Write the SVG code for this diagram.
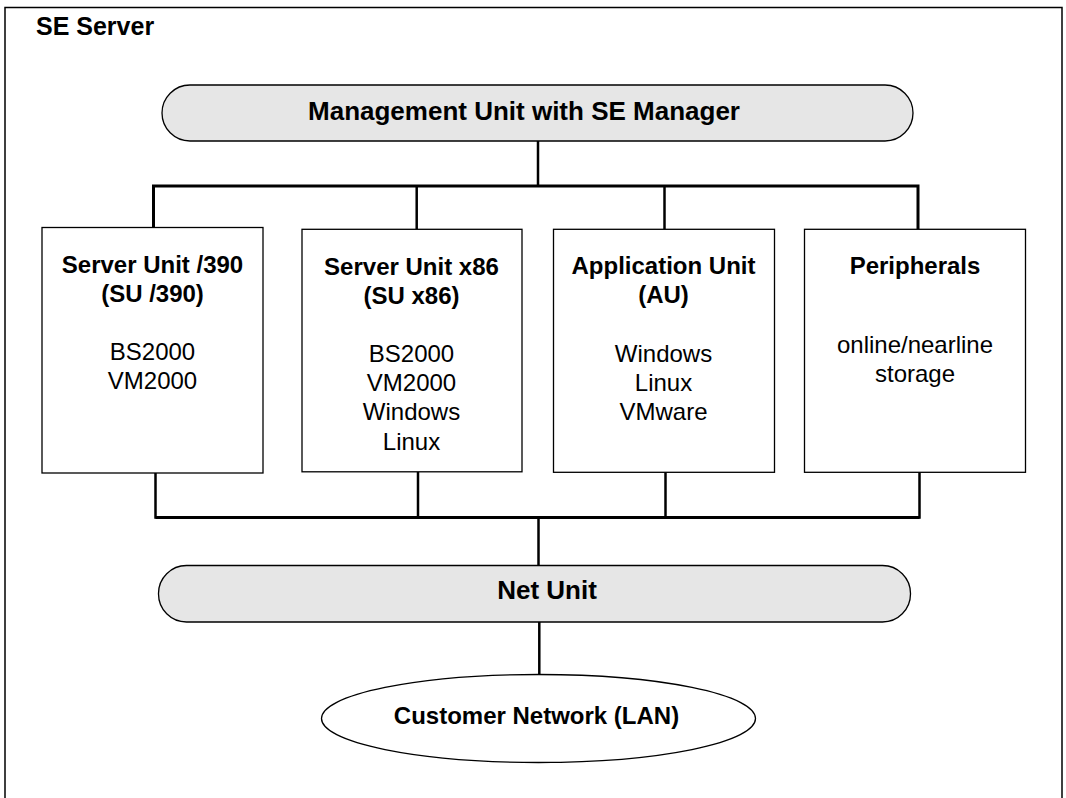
<svg xmlns="http://www.w3.org/2000/svg" width="1066" height="798" viewBox="0 0 1066 798">
<style>
  text { font-family: "Liberation Sans", Arial, sans-serif; fill: #000; }
  .b { font-weight: bold; }
  .t { font-size: 24px; text-anchor: middle; }
  .box { fill: #fff; stroke: #000; stroke-width: 1.3; }
  .pill { fill: #e6e6e6; stroke: #000; stroke-width: 1.3; }
  .bus { fill: none; stroke: #000; stroke-width: 3; }
  .drop { fill: none; stroke: #000; stroke-width: 2.5; }
</style>
<rect width="1066" height="798" fill="#fff"/>
<g id="frame">
  <path d="M5,798 V7.5 H1062 V798" fill="none" stroke="#000" stroke-width="1.5"/>
  <text x="36" y="35" class="b" font-size="25">SE Server</text>
</g>
<g id="connectors">
  <path class="drop" d="M538,141 V186"/>
  <path class="bus" d="M153.5,227 V186 H918 V229"/>
  <path class="drop" d="M416.7,186 V229"/>
  <path class="drop" d="M664.5,186 V229"/>
  <path class="drop" d="M155.5,473 V517.5 H919.5 V472"/>
  <path class="drop" d="M418,472 V517.5"/>
  <path class="drop" d="M665.5,472 V517.5"/>
  <path class="bus" d="M155.5,517.5 H919.5"/>
  <path class="drop" d="M538.5,517.5 V565.5"/>
  <path class="drop" d="M539.3,622 V675"/>
</g>
<g id="mgmt">
  <rect class="pill" x="162" y="85" width="751" height="56" rx="28" ry="28"/>
  <text x="524" y="119.5" class="b" font-size="26" text-anchor="middle">Management Unit with SE Manager</text>
</g>
<g id="su390">
  <rect class="box" x="42" y="227.5" width="221" height="245.5"/>
  <text class="t b" x="152.5" y="272.5">Server Unit /390</text>
  <text class="t b" x="152.5" y="301.5">(SU /390)</text>
  <text class="t" x="152.5" y="360">BS2000</text>
  <text class="t" x="152.5" y="389.3">VM2000</text>
</g>
<g id="sux86">
  <rect class="box" x="302" y="229.3" width="220" height="242.5"/>
  <text class="t b" x="411.5" y="274.5">Server Unit x86</text>
  <text class="t b" x="411.5" y="303.5">(SU x86)</text>
  <text class="t" x="411.5" y="361.7">BS2000</text>
  <text class="t" x="411.5" y="391">VM2000</text>
  <text class="t" x="411.5" y="420.3">Windows</text>
  <text class="t" x="411.5" y="449.6">Linux</text>
</g>
<g id="au">
  <rect class="box" x="553.5" y="229.3" width="221" height="243"/>
  <text class="t b" x="663.5" y="274">Application Unit</text>
  <text class="t b" x="663.5" y="303.3">(AU)</text>
  <text class="t" x="663.5" y="361.7">Windows</text>
  <text class="t" x="663.5" y="391">Linux</text>
  <text class="t" x="663.5" y="420.3">VMware</text>
</g>
<g id="peripherals">
  <rect class="box" x="804.5" y="229.3" width="221" height="243"/>
  <text class="t b" x="915" y="273.5">Peripherals</text>
  <text class="t" x="915" y="353">online/nearline</text>
  <text class="t" x="915" y="382.3">storage</text>
</g>
<g id="netunit">
  <rect class="pill" x="158.5" y="565.5" width="752" height="56.5" rx="28" ry="28"/>
  <text x="547" y="599" class="b" font-size="26" text-anchor="middle">Net Unit</text>
</g>
<g id="lan">
  <ellipse cx="538.5" cy="718.5" rx="217" ry="44" fill="#fff" stroke="#000" stroke-width="1.3"/>
  <text class="t b" x="536.5" y="724.3">Customer Network (LAN)</text>
</g>
</svg>
